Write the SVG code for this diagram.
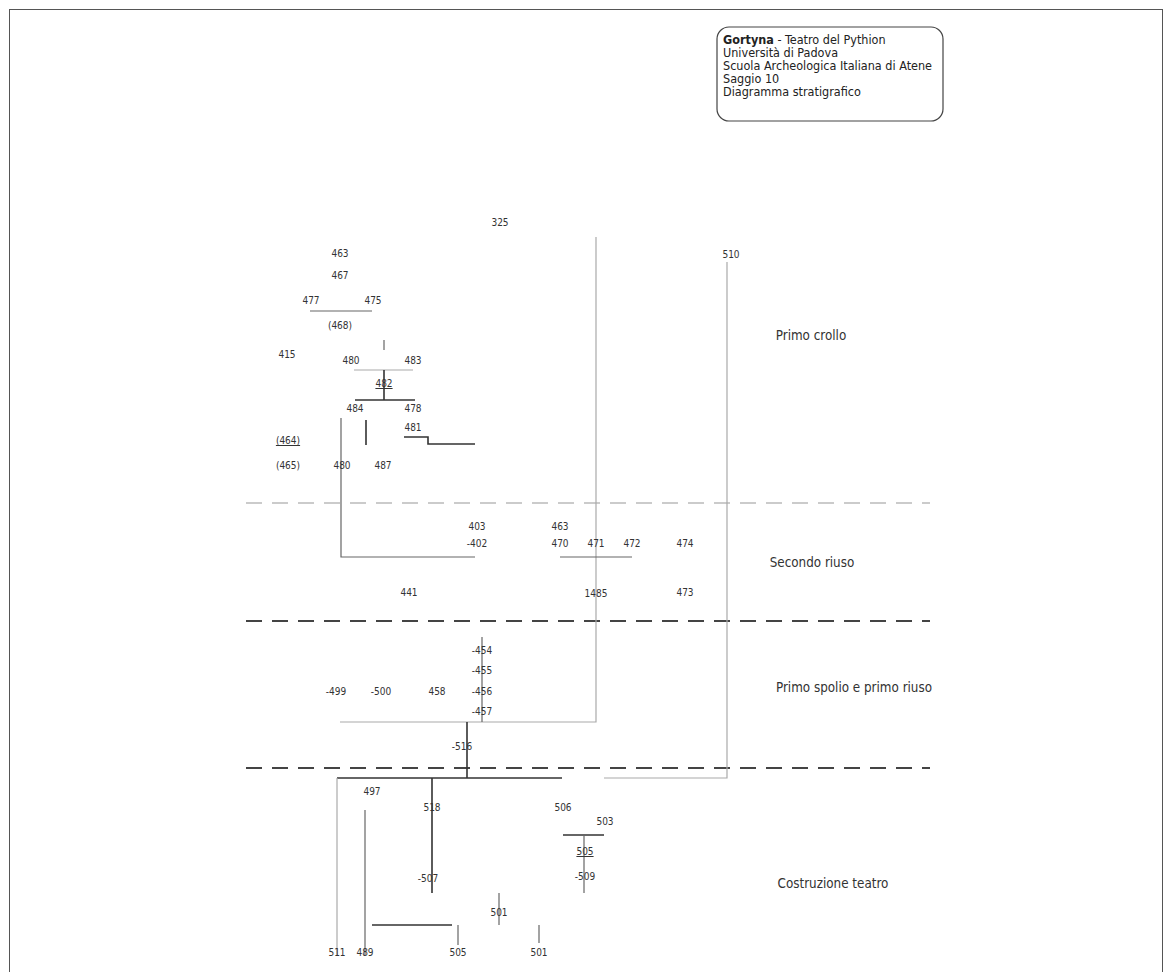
<svg xmlns="http://www.w3.org/2000/svg" width="1171" height="972" viewBox="0 0 1171 972">
<style>
.t{font-family:"DejaVu Sans Condensed","Liberation Sans",sans-serif;font-size:10px;fill:#333;text-anchor:middle}
.ph{font-family:"DejaVu Sans Condensed","Liberation Sans",sans-serif;font-size:13.3px;fill:#333;text-anchor:middle}
.info{font-family:"DejaVu Sans Condensed","Liberation Sans",sans-serif;font-size:12.5px;fill:#222}
.dk{stroke:#333;stroke-width:1.6;fill:none}
.lt{stroke:#aaa;stroke-width:1.2;fill:none}
.md{stroke:#666;stroke-width:1.2;fill:none}
.d1{stroke:#bbb;stroke-width:1.4;stroke-dasharray:16 10;fill:none}
.d2{stroke:#444;stroke-width:1.8;stroke-dasharray:16 10;fill:none}
</style>
<rect x="0" y="0" width="1171" height="972" fill="#fff"/>
<rect x="9.5" y="9.5" width="1153" height="980" fill="none" stroke="#555" stroke-width="1"/>
<g id="info">
<rect x="717" y="27" width="226" height="94" rx="12" fill="#fff" stroke="#444" stroke-width="1.2"/>
<text class="info" x="723" y="44"><tspan font-weight="bold">Gortyna</tspan> - Teatro del Pythion</text>
<text class="info" x="723" y="57">Università di Padova</text>
<text class="info" x="723" y="70">Scuola Archeologica Italiana di Atene</text>
<text class="info" x="723" y="83">Saggio 10</text>
<text class="info" x="723" y="96">Diagramma stratigrafico</text>
</g>
<g id="phases">
<path class="d1" d="M246 503H930"/>
<path class="d2" d="M246 621H930"/>
<path class="d2" d="M246 768H930"/>
<text class="ph" x="811" y="340">Primo crollo</text>
<text class="ph" x="812" y="567">Secondo riuso</text>
<text class="ph" x="854" y="692">Primo spolio e primo riuso</text>
<text class="ph" x="833" y="888">Costruzione teatro</text>
</g>
<g id="connectors">
<path class="lt" d="M596 237V722H340"/>
<path class="lt" d="M727 262V778H604"/>
<path class="md" d="M310 311H372"/>
<path class="md" d="M384 340V350"/>
<path class="lt" d="M354 370H413"/>
<path class="dk" d="M384 370V400"/>
<path class="dk" d="M355 400H415"/>
<path class="dk" d="M366 420V445"/>
<path class="md" d="M341 418V557H475"/>
<path class="dk" d="M404 437H428V444H475"/>
<path class="md" d="M560 557H632"/>
<path class="md" d="M482 637V722"/>
<path class="dk" d="M467 722V778"/>
<path class="dk" d="M337 778H562"/>
<path class="lt" d="M337 778V955"/>
<path class="md" d="M365 810V955"/>
<path class="dk" d="M432 778V893"/>
<path class="dk" d="M563 835H604"/>
<path class="md" d="M584 835V893"/>
<path class="md" d="M499 893V925"/>
<path class="dk" d="M372 925H452"/>
<path class="md" d="M458 925V945"/>
<path class="md" d="M539 925V943"/>
</g>
<g id="n325"><text class="t" x="500" y="226">325</text></g>
<g id="n510"><text class="t" x="731" y="258">510</text></g>
<g id="n463a"><text class="t" x="340" y="257">463</text></g>
<g id="n467"><text class="t" x="340" y="279">467</text></g>
<g id="n477"><text class="t" x="311" y="304">477</text></g>
<g id="n475"><text class="t" x="373" y="304">475</text></g>
<g id="n468"><text class="t" x="340" y="329">(468)</text></g>
<g id="n415"><text class="t" x="287" y="358">415</text></g>
<g id="n480a"><text class="t" x="351" y="364">480</text></g>
<g id="n483"><text class="t" x="413" y="364">483</text></g>
<g id="n482"><text class="t" x="384" y="387" text-decoration="underline">482</text></g>
<g id="n484"><text class="t" x="355" y="412">484</text></g>
<g id="n478"><text class="t" x="413" y="412">478</text></g>
<g id="n481"><text class="t" x="413" y="431">481</text></g>
<g id="n464"><text class="t" x="288" y="444" text-decoration="underline">(464)</text></g>
<g id="n465"><text class="t" x="288" y="469">(465)</text></g>
<g id="n480b"><text class="t" x="342" y="469">480</text></g>
<g id="n487"><text class="t" x="383" y="469">487</text></g>
<g id="n403"><text class="t" x="477" y="530">403</text></g>
<g id="n402"><text class="t" x="477" y="547">-402</text></g>
<g id="n463b"><text class="t" x="560" y="530">463</text></g>
<g id="n470"><text class="t" x="560" y="547">470</text></g>
<g id="n471"><text class="t" x="596" y="547">471</text></g>
<g id="n472"><text class="t" x="632" y="547">472</text></g>
<g id="n474"><text class="t" x="685" y="547">474</text></g>
<g id="n441"><text class="t" x="409" y="596">441</text></g>
<g id="n485"><text class="t" x="596" y="597">1485</text></g>
<g id="n473"><text class="t" x="685" y="596">473</text></g>
<g id="n454"><text class="t" x="482" y="654">-454</text></g>
<g id="n455"><text class="t" x="482" y="674">-455</text></g>
<g id="n499"><text class="t" x="336" y="695">-499</text></g>
<g id="n500"><text class="t" x="381" y="695">-500</text></g>
<g id="n458"><text class="t" x="437" y="695">458</text></g>
<g id="n456"><text class="t" x="482" y="695">-456</text></g>
<g id="n457"><text class="t" x="482" y="715">-457</text></g>
<g id="n516"><text class="t" x="462" y="750">-516</text></g>
<g id="n497"><text class="t" x="372" y="795">497</text></g>
<g id="n518"><text class="t" x="432" y="811">518</text></g>
<g id="n506"><text class="t" x="563" y="811">506</text></g>
<g id="n503"><text class="t" x="605" y="825">503</text></g>
<g id="n505a"><text class="t" x="585" y="855" text-decoration="underline">505</text></g>
<g id="n509"><text class="t" x="585" y="880">-509</text></g>
<g id="n507"><text class="t" x="428" y="882">-507</text></g>
<g id="n501a"><text class="t" x="499" y="916">501</text></g>
<g id="n511"><text class="t" x="337" y="956">511</text></g>
<g id="n489"><text class="t" x="365" y="956">489</text></g>
<g id="n505b"><text class="t" x="458" y="956">505</text></g>
<g id="n501b"><text class="t" x="539" y="956">501</text></g>
</svg>
